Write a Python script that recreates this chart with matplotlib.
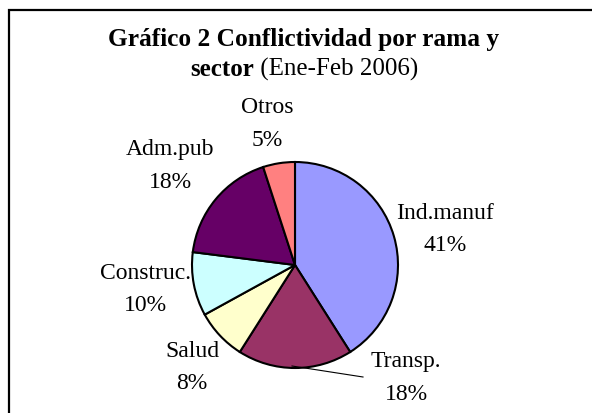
import numpy as np
import matplotlib
matplotlib.use("Agg")
import matplotlib.pyplot as plt
from matplotlib.patches import Rectangle

# data
sectors = ["Ind.manuf", "Transp.", "Salud", "Construc.", "Adm.pub", "Otros"]
shares = [41, 18, 8, 10, 18, 5]
colors = ["#9999FF", "#993366", "#FFFFCC", "#CCFFFF", "#660066", "#FF8080"]

W, H = 592, 414
SERIF = ["Liberation Serif", "DejaVu Serif"]

def yu(y):
    # image row (from top) -> axis y (from bottom)
    return H - y

fig = plt.figure(figsize=(W / 100, H / 100), dpi=100)
ax = fig.add_axes([0, 0, 1, 1])

center = (295, yu(266))
radius = 103
wedges, _ = ax.pie(shares, colors=colors, startangle=90, counterclock=False,
                   center=center, radius=radius,
                   wedgeprops=dict(edgecolor="black", linewidth=1.5))
ax.set_xlim(0, W)
ax.set_ylim(0, H)
ax.set_aspect("equal")
ax.axis("off")

# outer chart frame (cut off at right and bottom)
ax.add_patch(Rectangle((9, -30), 640, yu(11) + 30, fill=False,
                       edgecolor="black", linewidth=1.6, clip_on=True))

# title
ax.text(304, yu(46), "Gráfico 2 Conflictividad por rama y", ha="center",
        va="baseline", fontsize=18.3, fontweight="bold", family=SERIF)
t_a = ax.text(0, yu(76), "sector", ha="left", va="baseline", fontsize=18,
              fontweight="bold", family=SERIF)
t_b = ax.text(0, yu(76), " (Ene-Feb 2006)", ha="left", va="baseline",
              fontsize=18, family=SERIF)
r = fig.canvas.get_renderer()
wa = t_a.get_window_extent(r).width
wb = t_b.get_window_extent(r).width
x0 = 304 - (wa + wb) / 2
t_a.set_x(x0)
t_b.set_x(x0 + wa)

# data labels (name above, percent below)
label_pos = {
    "Ind.manuf": (445, 219, 251),
    "Transp.": (406, 367, 400),
    "Salud": (192, 357, 389),
    "Construc.": (145, 279, 311),
    "Adm.pub": (170, 155, 188),
    "Otros": (267, 113, 146),
}
for name, val in zip(sectors, shares):
    x, y1, y2 = label_pos[name]
    ax.text(x, yu(y1), name, ha="center", va="baseline", fontsize=17, family=SERIF)
    ax.text(x, yu(y2), f"{val}%", ha="center", va="baseline", fontsize=17, family=SERIF)

# leader line for Transp.
w = wedges[sectors.index("Transp.")]
mid = np.deg2rad((w.theta1 + w.theta2) / 2)
sx = center[0] + radius * np.cos(mid) - 3
sy = center[1] + radius * np.sin(mid) + 2
ax.plot([sx, 363], [sy, yu(378)], color="black", linewidth=0.8)

fig.savefig("out.png", dpi=100)
